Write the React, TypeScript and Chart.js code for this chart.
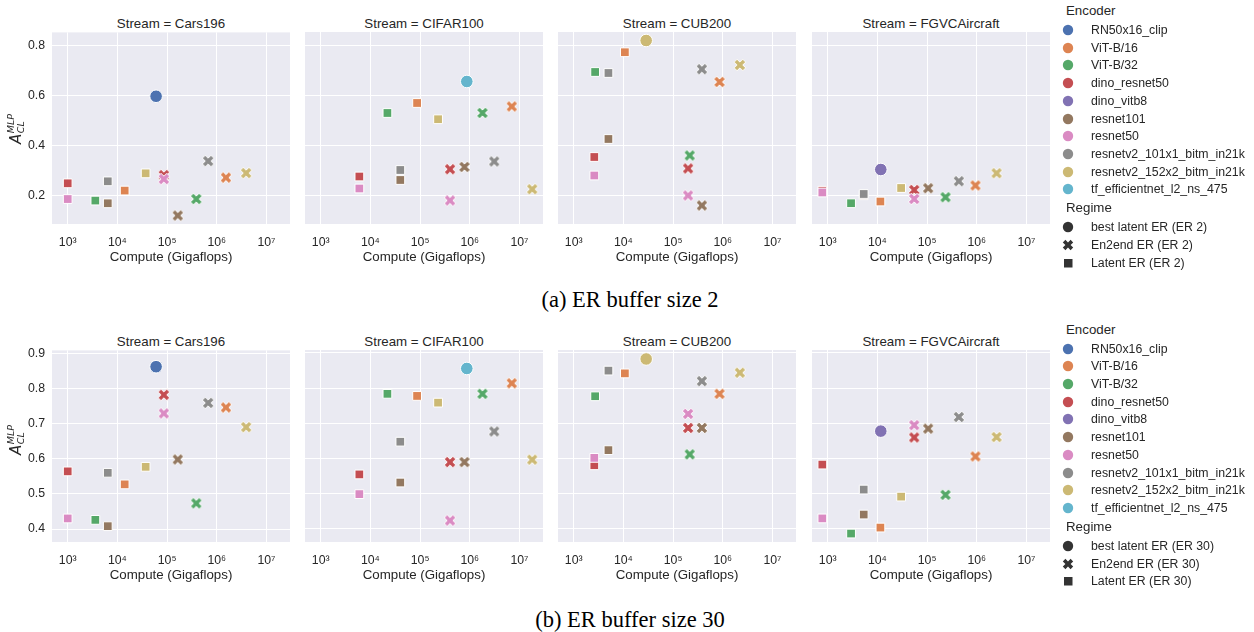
import React, { useEffect, useRef } from "react";
import { Chart, registerables } from "chart.js";
Chart.register(...registerables);

// ---------------- DATA ----------------
const ENCODERS = [
  "RN50x16_clip",
  "ViT-B/16",
  "ViT-B/32",
  "dino_resnet50",
  "dino_vitb8",
  "resnet101",
  "resnet50",
  "resnetv2_101x1_bitm_in21k",
  "resnetv2_152x2_bitm_in21k",
  "tf_efficientnet_l2_ns_475",
];
const COLORS = ["#4C72B0", "#DD8452", "#55A868", "#C44E52", "#8172B3", "#937860", "#DA8BC3", "#8C8C8C", "#CCB974", "#64B5CD"];
const STREAMS = ["Cars196", "CIFAR100", "CUB200", "FGVCAircraft"];
const REGIMES = ["best latent ER", "En2end ER", "Latent ER"];
const BUFFERS = [2, 30];
const CAPTIONS = ["(a) ER buffer size 2", "(b) ER buffer size 30"];
const X_TICKS = [1e3, 1e4, 1e5, 1e6, 1e7];
const X_TICK_LABELS = ["10³", "10⁴", "10⁵", "10⁶", "10⁷"];
const Y_TICKS_ER2 = [0.2, 0.4, 0.6, 0.8];
const Y_TICKS_ER30 = [0.4, 0.5, 0.6, 0.7, 0.8, 0.9];

const N = null;
// compute (Gigaflops), indexed by encoder
const CARS_LATENT_COMPUTE = [N, 1.4e4, 3.6e3, 1.0e3, N, 6.4e3, 1.0e3, 6.4e3, 3.7e4, N];
const CARS_EN2END_COMPUTE = [N, 1.53e6, 3.86e5, 8.6e4, N, 1.64e5, 8.6e4, 6.7e5, 3.9e6, N];
const CIFAR_LATENT_COMPUTE = [N, 8.7e4, 2.2e4, 6.0e3, N, 4.0e4, 6.0e3, 4.0e4, 2.3e5, N];
const CIFAR_EN2END_COMPUTE = [N, 7.0e6, 1.8e6, 4.0e5, N, 7.8e5, 4.0e5, 3.1e6, 1.8e7, N];
const CUB_LATENT_COMPUTE = [N, 1.07e4, 2.7e3, 2.6e3, N, 5.0e3, 2.6e3, 5.0e3, N, N];
const CUB_EN2END_COMPUTE = [N, 8.6e5, 2.16e5, 2.0e5, N, 3.8e5, 2.0e5, 3.8e5, 2.2e6, N];
const FGVC_LATENT_COMPUTE = [N, 1.15e4, 2.95e3, 780, N, 5.3e3, 780, 5.3e3, 3.0e4, N];
const FGVC_EN2END_COMPUTE = [N, 9.4e5, 2.35e5, 5.5e4, N, 1.05e5, 5.5e4, 4.35e5, 2.5e6, N];

// accuracy A_CL^MLP, ER buffer size 2
const CARS_LATENT_ER2 = [N, 0.219, 0.179, 0.248, N, 0.168, 0.185, 0.256, 0.288, N];
const CARS_EN2END_ER2 = [N, 0.271, 0.185, 0.281, N, 0.119, 0.265, 0.337, 0.289, N];
const CIFAR_LATENT_ER2 = [N, 0.569, 0.529, 0.275, N, 0.261, 0.227, 0.301, 0.504, N];
const CIFAR_EN2END_ER2 = [N, 0.555, 0.529, 0.304, N, 0.313, 0.179, 0.335, 0.224, N];
const CUB_LATENT_ER2 = [N, 0.772, 0.693, 0.353, N, 0.425, 0.279, 0.689, N, N];
const CUB_EN2END_ER2 = [N, 0.653, 0.359, 0.307, N, 0.159, 0.199, 0.704, 0.721, N];
const FGVC_LATENT_ER2 = [N, 0.175, 0.168, 0.218, N, 0.2, 0.211, 0.205, 0.229, N];
const FGVC_EN2END_ER2 = [N, 0.239, 0.192, 0.221, N, 0.228, 0.185, 0.256, 0.288, N];

// accuracy A_CL^MLP, ER buffer size 30
const CARS_LATENT_ER30 = [N, 0.527, 0.426, 0.564, N, 0.408, 0.43, 0.56, 0.577, N];
const CARS_EN2END_ER30 = [N, 0.746, 0.473, 0.782, N, 0.598, 0.729, 0.759, 0.69, N];
const CIFAR_LATENT_ER30 = [N, 0.778, 0.784, 0.555, N, 0.532, 0.499, 0.648, 0.759, N];
const CIFAR_EN2END_ER30 = [N, 0.814, 0.784, 0.59, N, 0.59, 0.424, 0.677, 0.597, N];
const CUB_LATENT_ER30 = [N, 0.842, 0.777, 0.581, N, 0.624, 0.602, 0.85, N, N];
const CUB_EN2END_ER30 = [N, 0.784, 0.612, 0.687, N, 0.687, 0.727, 0.82, 0.844, N];
const FGVC_LATENT_ER30 = [N, 0.404, 0.387, 0.583, N, 0.441, 0.43, 0.512, 0.492, N];
const FGVC_EN2END_ER30 = [N, 0.606, 0.497, 0.66, N, 0.685, 0.695, 0.718, 0.661, N];

// best latent ER per stream
const BEST_ENCODER = [0, 9, 8, 4];
const BEST_COMPUTE = [6.0e4, 8.7e5, 2.87e4, 1.17e4];
const BEST_ER2 = [0.597, 0.655, 0.819, 0.303];
const BEST_ER30 = [0.862, 0.856, 0.883, 0.678];

// tables built from the arrays above
const LATENT_COMPUTE = [CARS_LATENT_COMPUTE, CIFAR_LATENT_COMPUTE, CUB_LATENT_COMPUTE, FGVC_LATENT_COMPUTE];
const EN2END_COMPUTE = [CARS_EN2END_COMPUTE, CIFAR_EN2END_COMPUTE, CUB_EN2END_COMPUTE, FGVC_EN2END_COMPUTE];
const LATENT_ACC = [
  [CARS_LATENT_ER2, CIFAR_LATENT_ER2, CUB_LATENT_ER2, FGVC_LATENT_ER2],
  [CARS_LATENT_ER30, CIFAR_LATENT_ER30, CUB_LATENT_ER30, FGVC_LATENT_ER30],
];
const EN2END_ACC = [
  [CARS_EN2END_ER2, CIFAR_EN2END_ER2, CUB_EN2END_ER2, FGVC_EN2END_ER2],
  [CARS_EN2END_ER30, CIFAR_EN2END_ER30, CUB_EN2END_ER30, FGVC_EN2END_ER30],
];
const BEST_ACC = [BEST_ER2, BEST_ER30];
const Y_TICKS = [Y_TICKS_ER2, Y_TICKS_ER30];

// ---------------- LAYOUT / STYLE ----------------
const TEXT = "#262626";
const SANS = "'Liberation Sans', Arial, sans-serif";
const BG = "#EAEAF2";
const PLOT_LEFT = [52, 305, 558, 812];
const PLOT_W = 238;
const PLOT_TOP = [32, 350];
const PLOT_H = 192;
const PAD = 14;
const Y_AXIS_W = 38;
const X_AXIS_H = 41;
const X_MIN = 483;
const X_MAX = 2.97e7;
const Y_RANGE = [
  [0.085, 0.853],
  [0.363, 0.9085],
];
const ROW_OFFSET = 318.5;

const X_SHAPE = [
  [-1, -3], [-1, -1], [-3, -1], [-3, 1], [-1, 1], [-1, 3],
  [1, 3], [1, 1], [3, 1], [3, -1], [1, -1], [1, -3],
];
function xPoints(size: number, cx: number, cy: number) {
  const c = Math.SQRT1_2;
  return X_SHAPE.map(([x, y]) => {
    const px = (x * size) / 6;
    const py = (y * size) / 6;
    return [cx + (px - py) * c, cy + (px + py) * c];
  });
}
function makeXImage(color: string, size: number) {
  const S = Math.ceil(size * 0.95 + 4);
  const cv = document.createElement("canvas");
  cv.width = S;
  cv.height = S;
  const ctx = cv.getContext("2d")!;
  const pts = xPoints(size, S / 2, S / 2);
  ctx.beginPath();
  pts.forEach(([x, y], i) => (i ? ctx.lineTo(x, y) : ctx.moveTo(x, y)));
  ctx.closePath();
  ctx.fillStyle = color;
  ctx.fill();
  ctx.strokeStyle = "#ffffff";
  ctx.lineWidth = 1;
  ctx.stroke();
  return cv;
}

const bgPlugin = {
  id: "panelBg",
  beforeDraw(chart: any) {
    const { ctx, chartArea } = chart;
    ctx.save();
    ctx.fillStyle = BG;
    ctx.fillRect(chartArea.left, chartArea.top, chartArea.right - chartArea.left, chartArea.bottom - chartArea.top);
    ctx.restore();
  },
};

function Panel({ row, col }: { row: number; col: number }) {
  const ref = useRef<HTMLCanvasElement>(null);
  const yW = col === 0 ? Y_AXIS_W : 0;
  const left = PLOT_LEFT[col] - PAD - yW;
  const top = PLOT_TOP[row] - PAD;
  const w = PAD + yW + PLOT_W + PAD;
  const h = PAD + PLOT_H + X_AXIS_H;

  useEffect(() => {
    const xImgs = COLORS.map((c) => makeXImage(c, 12.2));
    const latent: any[] = [];
    const en2end: any[] = [];
    ENCODERS.forEach((_, e) => {
      const lc = LATENT_COMPUTE[col][e];
      const la = LATENT_ACC[row][col][e];
      if (lc != null && la != null) latent.push({ x: lc, y: la, enc: e });
      const ec = EN2END_COMPUTE[col][e];
      const ea = EN2END_ACC[row][col][e];
      if (ec != null && ea != null) en2end.push({ x: ec, y: ea, enc: e });
    });
    const best = [{ x: BEST_COMPUTE[col], y: BEST_ACC[row][col], enc: BEST_ENCODER[col] }];
    const colorOf = (c: any) => (c.raw ? COLORS[c.raw.enc] : "#333");
    const common = {
      pointBackgroundColor: colorOf,
      pointBorderColor: "#ffffff",
      pointBorderWidth: 1,
      pointHoverBorderWidth: 1,
    };
    const label = (i: number) => `${REGIMES[i]} (ER ${BUFFERS[row]})`;
    const chart = new Chart(ref.current!, {
      type: "scatter",
      data: {
        datasets: [
          { label: label(0), data: best, pointStyle: "circle", pointRadius: 6.3, pointHoverRadius: 6.3, ...common } as any,
          {
            label: label(1),
            data: en2end,
            pointStyle: (c: any) => (c.raw ? xImgs[c.raw.enc] : "crossRot"),
            pointRadius: 6,
            pointHoverRadius: 6,
            ...common,
          } as any,
          { label: label(2), data: latent, pointStyle: "rect", pointRadius: 6.2, pointHoverRadius: 6.2, ...common } as any,
        ],
      },
      options: {
        animation: false,
        responsive: false,
        maintainAspectRatio: false,
        devicePixelRatio: 1,
        events: [],
        layout: { padding: { left: PAD, right: PAD, top: PAD, bottom: 0 } },
        plugins: { legend: { display: false }, tooltip: { enabled: false }, title: { display: false } },
        scales: {
          x: {
            type: "logarithmic",
            position: "bottom",
            min: X_MIN,
            max: X_MAX,
            afterBuildTicks: (s: any) => {
              s.ticks = X_TICKS.map((v) => ({ value: v }));
            },
            afterFit: (s: any) => {
              s.height = X_AXIS_H;
            },
            ticks: {
              autoSkip: false,
              maxRotation: 0,
              padding: 11,
              color: TEXT,
              font: { family: SANS, size: 12.3 },
              callback: (v: any) => {
                const i = X_TICKS.indexOf(Number(v));
                return i >= 0 ? X_TICK_LABELS[i] : "";
              },
            },
            grid: { color: "#ffffff", lineWidth: 1, drawTicks: false },
            border: { display: false },
            title: {
              display: true,
              text: "Compute (Gigaflops)",
              color: TEXT,
              font: { family: SANS, size: 13.3 },
              padding: { top: 0, bottom: 0 },
            },
          },
          y: {
            type: "linear",
            min: Y_RANGE[row][0],
            max: Y_RANGE[row][1],
            afterBuildTicks: (s: any) => {
              s.ticks = Y_TICKS[row].map((v) => ({ value: v }));
            },
            afterFit: (s: any) => {
              s.width = yW;
            },
            ticks: {
              display: col === 0,
              padding: 7,
              color: TEXT,
              font: { family: SANS, size: 12.3 },
              callback: (v: any) => Number(v).toFixed(1),
            },
            grid: { color: "#ffffff", lineWidth: 1, drawTicks: false },
            border: { display: false },
          },
        },
      } as any,
      plugins: [bgPlugin],
    });
    return () => chart.destroy();
  }, [row, col]);

  return (
    <canvas
      ref={ref}
      width={w}
      height={h}
      style={{ position: "absolute", left, top, width: w, height: h }}
    />
  );
}

function XMarker({ color, size }: { color: string; size: number }) {
  const S = 14;
  const pts = xPoints(size, S / 2, S / 2)
    .map(([x, y]) => `${x.toFixed(2)},${y.toFixed(2)}`)
    .join(" ");
  return (
    <svg width={S} height={S} style={{ display: "block" }}>
      <polygon points={pts} fill={color} />
    </svg>
  );
}

function LegendMarker({ kind, color }: { kind: string; color: string }) {
  if (kind === "x") return <XMarker color={color} size={11} />;
  if (kind === "square")
    return (
      <svg width={14} height={14} style={{ display: "block" }}>
        <rect x={3} y={3} width={8.5} height={8.5} fill={color} />
      </svg>
    );
  return (
    <svg width={14} height={14} style={{ display: "block" }}>
      <circle cx={7} cy={7} r={5.2} fill={color} />
    </svg>
  );
}

function Legend({ row }: { row: number }) {
  const off = row * ROW_OFFSET;
  const items: any[] = [];
  const header = (text: string, cy: number, key: string) => (
    <div
      key={key}
      style={{
        position: "absolute",
        left: 1066,
        top: cy - 9,
        height: 18,
        lineHeight: "18px",
        fontFamily: SANS,
        fontSize: 13.3,
        color: TEXT,
        whiteSpace: "nowrap",
      }}
    >
      {text}
    </div>
  );
  const item = (kind: string, color: string, text: string, cy: number, key: string) => (
    <div key={key} style={{ position: "absolute", left: 1061, top: cy - 8, height: 16, display: "flex", alignItems: "center" }}>
      <div style={{ width: 14, height: 14 }}>
        <LegendMarker kind={kind} color={color} />
      </div>
      <span
        style={{
          marginLeft: 16,
          fontFamily: SANS,
          fontSize: 12.3,
          color: TEXT,
          whiteSpace: "nowrap",
          lineHeight: "16px",
        }}
      >
        {text}
      </span>
    </div>
  );
  items.push(header("Encoder", 11 + off, "hdr-enc"));
  ENCODERS.forEach((e, i) => items.push(item("circle", COLORS[i], e, 30 + i * 17.72 + off, "enc" + i)));
  items.push(header("Regime", 208.3 + off, "hdr-reg"));
  const kinds = ["circle", "x", "square"];
  REGIMES.forEach((r, i) =>
    items.push(item(kinds[i], "#333333", `${r} (ER ${BUFFERS[row]})`, 227.3 + i * 17.8 + off, "reg" + i))
  );
  return <>{items}</>;
}

function YTitle({ cy }: { cy: number }) {
  return (
    <div
      style={{
        position: "absolute",
        left: 16,
        top: cy,
        transform: "translate(-50%, -50%) rotate(-90deg)",
        whiteSpace: "nowrap",
        fontFamily: "'DejaVu Sans', sans-serif",
        fontStyle: "italic",
        color: TEXT,
        display: "flex",
        alignItems: "center",
      }}
    >
      <span style={{ fontSize: 15, lineHeight: "18px" }}>A</span>
      <span
        style={{
          display: "inline-flex",
          flexDirection: "column",
          fontSize: 9.5,
          lineHeight: "10px",
          marginLeft: 0.5,
        }}
      >
        <span>MLP</span>
        <span>CL</span>
      </span>
    </div>
  );
}

export default function App() {
  return (
    <div style={{ position: "absolute", left: 0, top: 0, width: 1254, height: 632, background: "#ffffff", overflow: "hidden" }}>
      {[0, 1].map((row) => (
        <React.Fragment key={"row" + row}>
          {STREAMS.map((s, col) => (
            <div
              key={"t" + row + col}
              style={{
                position: "absolute",
                left: PLOT_LEFT[col],
                width: PLOT_W,
                top: PLOT_TOP[row] - 8.5 - 9,
                height: 18,
                lineHeight: "18px",
                textAlign: "center",
                fontFamily: SANS,
                fontSize: 13.3,
                color: TEXT,
                whiteSpace: "nowrap",
              }}
            >
              {`Stream = ${s}`}
            </div>
          ))}
          {STREAMS.map((s, col) => (
            <Panel key={"p" + row + col} row={row} col={col} />
          ))}
          <YTitle cy={row === 0 ? 129 : 440} />
          <Legend row={row} />
          <div
            style={{
              position: "absolute",
              left: 0,
              width: 1260,
              top: (row === 0 ? 300 : 620) - 13,
              height: 26,
              lineHeight: "26px",
              textAlign: "center",
              fontFamily: "'Liberation Serif', 'Times New Roman', serif",
              fontSize: 22.5,
              color: "#000000",
              whiteSpace: "nowrap",
            }}
          >
            {CAPTIONS[row]}
          </div>
        </React.Fragment>
      ))}
    </div>
  );
}
